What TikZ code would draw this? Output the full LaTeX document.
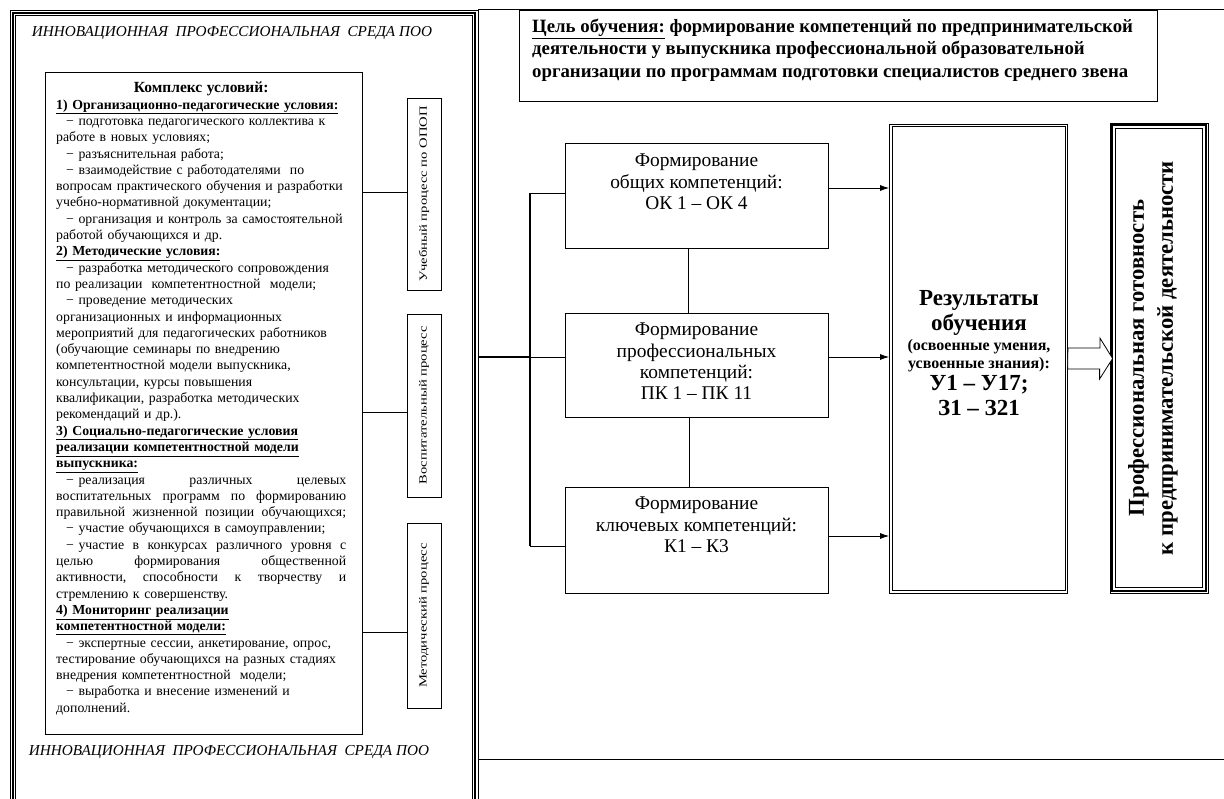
\documentclass[tikz,border=0pt]{standalone}
\usepackage{fontspec}
\setmainfont{Liberation Serif}
\usepackage{graphicx}
\usetikzlibrary{positioning,arrows.meta}

\newcommand{\ind}{\hspace*{10pt}−\ }
\newcommand{\jl}[1]{\makebox[290pt][l]{#1}}
\newcommand{\hd}[1]{\textbf{\underline{#1}}}

\begin{document}
\begin{tikzpicture}[x=1pt,y=-1pt,
  box/.style={draw, line width=0.8pt, inner sep=0pt},
  sbox/.style={box, rotate=90, minimum height=34pt, font=\fontsize{11}{13}\selectfont},
  kbox/.style={box, minimum width=263pt},
  ktext/.style={anchor=north, inner sep=0pt, align=center, font=\fontsize{19.4}{21.3}\selectfont},
  env/.style={font=\fontsize{15.2}{17}\selectfont\itshape},
  arr/.style={-{Latex[length=9pt,width=6pt]}, line width=0.8pt},
  bus/.style={line width=2pt}]
\useasboundingbox (0,0) rectangle (1224,799);

% frame of the environment
\draw[line width=0.7pt] (10,10) rectangle (478,830);
\draw[line width=2pt] (12.8,12.8) rectangle (475.2,830);
\draw[line width=0.7pt] (15.6,15.6) rectangle (472.4,830);
\coordinate (fr) at (478,357);
\draw[line width=0.8pt] (478,9) -- (1224,9);
\draw[line width=0.8pt] (478,759) -- (1224,759);

\node[env] (top) at (232,33) {ИННОВАЦИОННАЯ\ \ ПРОФЕССИОНАЛЬНАЯ\ \ СРЕДА ПОО};
\node[env] (bot) at (229,752) {ИННОВАЦИОННАЯ\ \ ПРОФЕССИОНАЛЬНАЯ\ \ СРЕДА ПОО};

% complex of conditions
\node[box, minimum width=317pt, minimum height=662pt] (cond) at (203.5,403) {};
\node[anchor=north west, inner sep=0pt, text width=302pt, align=left,
  font=\fontsize{13.8}{16.3}\selectfont] (ctxt) at (56,82) {%
\makebox[290pt]{\fontsize{15.5}{16.3}\selectfont\bfseries Комплекс условий:}\\
\hd{1) Организационно-педагогические условия:}\\
\ind подготовка педагогического коллектива к\\
работе в новых условиях;\\
\ind разъяснительная работа;\\
\ind взаимодействие с работодателями\ \ по\\
вопросам практического обучения и разработки\\
учебно-нормативной документации;\\
\ind организация и контроль за самостоятельной\\
работой обучающихся и др.\\
\hd{2) Методические условия:}\\
\ind разработка методического сопровождения\\
по реализации\ \ компетентностной\ \ модели;\\
\ind проведение методических\\
организационных и информационных\\
мероприятий для педагогических работников\\
(обучающие семинары по внедрению\\
компетентностной модели выпускника,\\
консультации, курсы повышения\\
квалификации, разработка методических\\
рекомендаций и др.).\\
\hd{3) Социально-педагогические условия}\\
\hd{реализации компетентностной модели}\\
\hd{выпускника:}\\
\jl{\hspace*{10pt}− реализация\hfill различных\hfill целевых}\\
\jl{воспитательных\hfill программ\hfill по\hfill формированию}\\
\jl{правильной\hfill жизненной\hfill позиции\hfill обучающихся;}\\
\ind участие обучающихся в самоуправлении;\\
\jl{\hspace*{10pt}− участие\hfill в\hfill конкурсах\hfill различного\hfill уровня\hfill с}\\
\jl{целью\hfill формирования\hfill общественной}\\
\jl{активности,\hfill способности\hfill к\hfill творчеству\hfill и}\\
стремлению к совершенству.\\
\hd{4) Мониторинг реализации}\\
\hd{компетентностной модели:}\\
\ind экспертные сессии,\ анкетирование,\ опрос,\\
тестирование обучающихся на разных стадиях\\
внедрения компетентностной\ \ модели;\\
\ind выработка и внесение\ изменений\ и\\
дополнений.};

% processes
\node[sbox, minimum width=192pt] (uch) at (424,194) {\scalebox{1.33}[1]{Учебный процесс по ОПОП}};
\node[sbox, minimum width=183pt] (vos) at (424,405.5) {\scalebox{1.33}[1]{Воспитательный процесс}};
\node[sbox, minimum width=185pt] (met) at (424,615.5) {\scalebox{1.33}[1]{Методический процесс}};
\draw[line width=0.8pt] (cond.east |- 0,192) -- (uch.north |- 0,192);
\draw[line width=0.8pt] (cond.east |- 0,412) -- (vos.north |- 0,412);
\draw[line width=0.8pt] (cond.east |- 0,632) -- (met.north |- 0,632);

% goal
\node[box, minimum width=638pt, minimum height=91pt] (goal) at (838,55.5) {};
\node[anchor=north west, inner sep=0pt, align=left,
  font=\fontsize{18.8}{22.3}\selectfont\bfseries] (gtxt) at (532,19) {%
\underline{Цель обучения:} формирование компетенций по предпринимательской\\
деятельности у выпускника профессиональной образовательной\\
организации по программам подготовки специалистов среднего звена};

% competencies
\node[kbox, minimum height=105pt] (ok) at (696.5,195.5) {};
\node[kbox, minimum height=104pt] (pk) at (696.5,365) {};
\node[kbox, minimum height=106pt] (kk) at (696.5,540) {};
\node[ktext] at (696.5,154) {Формирование\\общих компетенций:\\ОК 1 – ОК 4};
\node[ktext] at (696.5,323) {Формирование\\профессиональных\\компетенций:\\ПК 1 – ПК 11};
\node[ktext] at (696.5,497) {Формирование\\ключевых компетенций:\\К1 – К3};
\draw[line width=0.8pt] (ok.south -| 688,0) -- (pk.north -| 688,0);
\draw[line width=0.8pt] (pk.south -| 689,0) -- (kk.north -| 689,0);

\coordinate (b1) at (530,193);
\coordinate (b2) at (530,357);
\coordinate (b3) at (530,546);
\draw[bus] (fr) -- (b2);
\draw[bus] (b1) -- (b3);
\draw[line width=0.8pt] (b1) -- (ok.west |- b1);
\draw[line width=0.8pt] (b2) -- (pk.west |- b2);
\draw[line width=0.8pt] (b3) -- (kk.west |- b3);

% results
\node[box, minimum width=178pt, minimum height=469pt] (res) at (978.5,358.5) {};
\draw[line width=0.8pt] ([shift={(3,3)}]res.north west) rectangle ([shift={(-3,-3)}]res.south east);
\node[align=center, inner sep=0pt, font=\fontsize{23}{25}\selectfont\bfseries] (rtxt) at (979,353) {%
Результаты\\обучения\\[-5pt]
{\fontsize{16}{18}\selectfont (освоенные умения,}\\[-7pt]
{\fontsize{16}{18}\selectfont усвоенные знания):}\\[-3pt]
У1 – У17;\\З1 – З21};
\draw[arr] (ok.east |- 0,188) -- (res.west |- 0,188);
\draw[arr] (pk.east |- 0,357) -- (res.west |- 0,357);
\draw[arr] (kk.east |- 0,536) -- (res.west |- 0,536);

% readiness
\node[box, minimum width=98pt, minimum height=470pt] (got) at (1159,358) {};
\draw[line width=2pt] ([shift={(2.8,2.8)}]got.north west) rectangle ([shift={(-2.8,-2.8)}]got.south east);
\draw[line width=0.7pt] ([shift={(5.6,5.6)}]got.north west) rectangle ([shift={(-5.6,-5.6)}]got.south east);
\node[rotate=90, align=center, inner sep=0pt, font=\fontsize{22.7}{29}\selectfont\bfseries] (gtx) at ([xshift=-6pt]got.center) {%
Профессиональная готовность\\к предпринимательской деятельности};

\draw[line width=0.8pt, fill=white] (res.east) ++(0,-10.5) -- ++(32,0) -- ++(0,-10) -- ([xshift=3pt]got.west |- res.east)
  -- ++(-13,20.5) -- ++(0,-10) -- ++(-32,0) -- cycle;
\end{tikzpicture}
\end{document}
